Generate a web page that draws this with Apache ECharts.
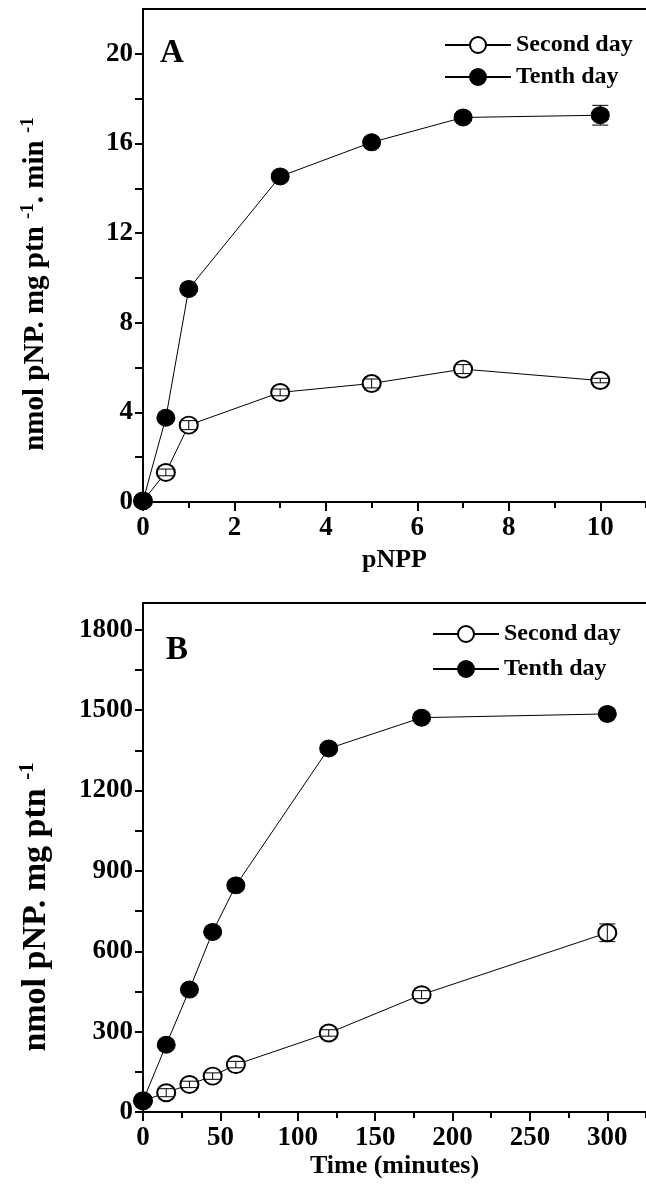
<!DOCTYPE html>
<html>
<head>
<meta charset="utf-8">
<script src="https://cdn.jsdelivr.net/npm/echarts@6/dist/echarts.min.js"></script>
<style>
  html, body { margin: 0; padding: 0; background: #fff; }
  #main { width: 646px; height: 1187px; }
</style>
</head>
<body>
<div id="main"></div>
<script type="text/javascript">
// panel A: activity vs pNPP concentration
var xA = [0, 0.5, 1, 3, 5, 7, 10];
var secondA = [0.05, 1.32, 3.43, 4.89, 5.29, 5.93, 5.42];
var tenthA = [0.05, 3.76, 9.51, 14.53, 16.05, 17.16, 17.26];
var secondAErr = [0.05, 0.15, 0.2, 0.15, 0.2, 0.2, 0.1];
var tenthAErr = [0.05, 0.1, 0.1, 0.1, 0.15, 0.1, 0.44];

// panel B: product vs time
var xB = [0, 15, 30, 45, 60, 120, 180, 300];
var secondB = [42, 72, 103, 134, 177, 295, 438, 669];
var tenthB = [42, 251, 457, 672, 846, 1357, 1472, 1486];
var secondBErr = [10, 15, 12, 12, 12, 12, 15, 33];
var tenthBErr = [10, 10, 10, 10, 10, 15, 12, 10];

// ticks
var xTicksA = [0, 2, 4, 6, 8, 10];
var xMinorA = [1, 3, 5, 7, 9, 11];
var yTicksA = [0, 4, 8, 12, 16, 20];
var yMinorA = [2, 6, 10, 14, 18];
var xTicksB = [0, 50, 100, 150, 200, 250, 300];
var xMinorB = [25, 75, 125, 175, 225, 275, 325];
var yTicksB = [0, 300, 600, 900, 1200, 1500, 1800];
var yMinorB = [150, 450, 750, 1050, 1350, 1650];

var FONT = 'Liberation Serif';

function pairs(xs, ys) {
    return xs.map(function (x, i) { return [x, ys[i]]; });
}
function triples(xs, ys, es) {
    return xs.map(function (x, i) { return [x, ys[i], es[i]]; });
}

// error bars drawn as a custom series on top of the markers
function errorBars(api) {
    var x = api.value(0), y = api.value(1), e = api.value(2);
    var hi = api.coord([x, y + e]);
    var lo = api.coord([x, y - e]);
    var w = 8;
    var st = { stroke: '#000', lineWidth: 1 };
    return {
        type: 'group',
        children: [
            { type: 'line', shape: { x1: hi[0], y1: hi[1], x2: lo[0], y2: lo[1] }, style: st },
            { type: 'line', shape: { x1: hi[0] - w, y1: hi[1], x2: hi[0] + w, y2: hi[1] }, style: st },
            { type: 'line', shape: { x1: lo[0] - w, y1: lo[1], x2: lo[0] + w, y2: lo[1] }, style: st }
        ]
    };
}

function plain(v) { return String(v); }

function mainX(grid, min, max, ticks, name, gap) {
    return {
        type: 'value', gridIndex: grid, position: 'bottom', min: min, max: max,
        name: name, nameLocation: 'middle', nameGap: gap,
        nameTextStyle: { fontFamily: FONT, fontWeight: 'bold', fontSize: 26, color: '#000' },
        axisLine: { show: true, onZero: false, lineStyle: { color: '#000', width: 2 } },
        axisTick: { show: true, inside: false, length: 9, customValues: ticks, lineStyle: { color: '#000', width: 2 } },
        axisLabel: { show: true, customValues: ticks, margin: 13, formatter: plain, fontFamily: FONT, fontWeight: 'bold', fontSize: 27, color: '#000' },
        splitLine: { show: false }
    };
}
function minorX(grid, min, max, ticks) {
    return {
        type: 'value', gridIndex: grid, position: 'bottom', min: min, max: max,
        axisLine: { show: false, onZero: false },
        axisTick: { show: true, length: 6, customValues: ticks, lineStyle: { color: '#000', width: 2 } },
        axisLabel: { show: false },
        splitLine: { show: false }
    };
}
function frameX(grid, min, max) {
    return {
        type: 'value', gridIndex: grid, position: 'top', min: min, max: max,
        axisLine: { show: true, onZero: false, lineStyle: { color: '#000', width: 2 } },
        axisTick: { show: false }, axisLabel: { show: false }, splitLine: { show: false }
    };
}
function mainY(grid, min, max, ticks) {
    return {
        type: 'value', gridIndex: grid, position: 'left', min: min, max: max,
        axisLine: { show: true, onZero: false, lineStyle: { color: '#000', width: 2 } },
        axisTick: { show: true, length: 8, customValues: ticks, lineStyle: { color: '#000', width: 2 } },
        axisLabel: { show: true, customValues: ticks, margin: 10, formatter: plain, fontFamily: FONT, fontWeight: 'bold', fontSize: 27, color: '#000' },
        splitLine: { show: false }
    };
}
function minorY(grid, min, max, ticks) {
    return {
        type: 'value', gridIndex: grid, position: 'left', min: min, max: max,
        axisLine: { show: false, onZero: false },
        axisTick: { show: true, length: 8, customValues: ticks, lineStyle: { color: '#000', width: 2 } },
        axisLabel: { show: false },
        splitLine: { show: false }
    };
}

var openStyle = { color: '#fff', borderColor: '#000', borderWidth: 2 };
var fillStyle = { color: '#000', borderColor: '#000', borderWidth: 1 };

function lineSeries(name, xi, yi, data, style) {
    return {
        name: name, type: 'line', xAxisIndex: xi, yAxisIndex: yi,
        data: data, symbol: 'circle', symbolSize: [18, 17], showAllSymbol: true,
        itemStyle: style, lineStyle: { color: '#000', width: 1 },
        emphasis: { disabled: true }, animation: false, z: 3
    };
}
function errSeries(xi, yi, data) {
    return {
        type: 'custom', xAxisIndex: xi, yAxisIndex: yi, data: data,
        renderItem: function (params, api) { return errorBars(api); },
        animation: false, z: 4, silent: true
    };
}

var legendText = { fontFamily: FONT, fontWeight: 'bold', fontSize: 24, color: '#000', lineHeight: 24 };

var myChart = echarts.init(document.getElementById('main'));
var option = {
    backgroundColor: '#fff',
    animation: false,
    grid: [
        { left: 143, top: 9, width: 506, height: 493 },
        { left: 143, top: 603, width: 505, height: 509 }
    ],
    xAxis: [
        mainX(0, 0, 11, xTicksA, 'pNPP', 45),
        minorX(0, 0, 11, xMinorA),
        frameX(0, 0, 11),
        mainX(1, 0, 325, xTicksB, 'Time (minutes)', 36),
        minorX(1, 0, 325, xMinorB),
        frameX(1, 0, 325)
    ],
    yAxis: [
        mainY(0, 0, 22, yTicksA),
        minorY(0, 0, 22, yMinorA),
        mainY(1, 0, 1900, yTicksB),
        minorY(1, 0, 1900, yMinorB)
    ],
    legend: [
        {
            data: ['Second day', 'Tenth day'], orient: 'vertical', left: 439, top: 28,
            itemWidth: 66, itemHeight: 20, itemGap: 8, textStyle: legendText,
            selectedMode: false
        },
        {
            data: ['Second day', 'Tenth day'], orient: 'vertical', left: 427, top: 617,
            itemWidth: 66, itemHeight: 20, itemGap: 11, textStyle: legendText,
            selectedMode: false
        }
    ],
    graphic: [
        { type: 'text', x: 160, y: 53, style: { text: 'A', font: 'bold 33px "Liberation Serif"', fill: '#000', align: 'left', verticalAlign: 'middle', textAlign: 'left', textVerticalAlign: 'middle' } },
        { type: 'text', x: 166, y: 650, style: { text: 'B', font: 'bold 33px "Liberation Serif"', fill: '#000', align: 'left', verticalAlign: 'middle', textAlign: 'left', textVerticalAlign: 'middle' } },
        {
            type: 'text', x: 36, y: 284, rotation: Math.PI / 2,
            style: {
                text: '{n|nmol pNP. mg ptn }{s|-1}{n|. min }{s|-1}',
                align: 'center', verticalAlign: 'middle', textAlign: 'center', textVerticalAlign: 'middle',
                rich: {
                    n: { fontFamily: FONT, fontWeight: 'bold', fontSize: 29, fill: '#000', lineHeight: 34 },
                    s: { fontFamily: FONT, fontWeight: 'bold', fontSize: 19, fill: '#000', lineHeight: 18, verticalAlign: 'top' }
                }
            }
        },
        {
            type: 'text', x: 36, y: 907, rotation: Math.PI / 2,
            style: {
                text: '{n|nmol pNP. mg ptn }{s|-1}',
                align: 'center', verticalAlign: 'middle', textAlign: 'center', textVerticalAlign: 'middle',
                rich: {
                    n: { fontFamily: FONT, fontWeight: 'bold', fontSize: 34, fill: '#000', lineHeight: 38 },
                    s: { fontFamily: FONT, fontWeight: 'bold', fontSize: 21, fill: '#000', lineHeight: 20, verticalAlign: 'top' }
                }
            }
        }
    ],
    series: [
        lineSeries('Second day', 0, 0, pairs(xA, secondA), openStyle),
        lineSeries('Tenth day', 0, 0, pairs(xA, tenthA), fillStyle),
        errSeries(0, 0, triples(xA, secondA, secondAErr)),
        errSeries(0, 0, triples(xA, tenthA, tenthAErr)),
        lineSeries('Second day', 3, 2, pairs(xB, secondB), openStyle),
        lineSeries('Tenth day', 3, 2, pairs(xB, tenthB), fillStyle),
        errSeries(3, 2, triples(xB, secondB, secondBErr)),
        errSeries(3, 2, triples(xB, tenthB, tenthBErr))
    ]
};
myChart.setOption(option);
</script>
</body>
</html>
